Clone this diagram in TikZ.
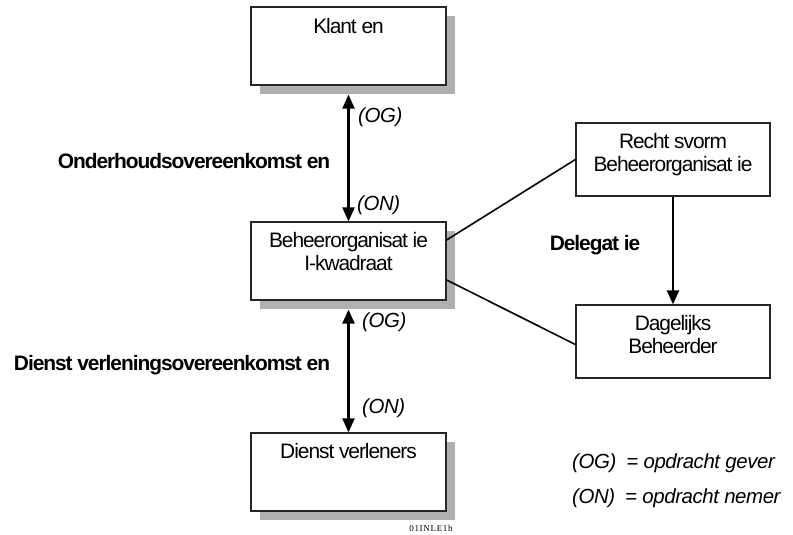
\documentclass[tikz,border=0pt]{standalone}
\usepackage{fontspec}
\setmainfont[LetterSpace=-5,ItalicFeatures={LetterSpace=-2}]{Liberation Sans}
\newfontfamily\tinyserif[LetterSpace=8]{Liberation Serif}
\usetikzlibrary{arrows.meta,calc,shadows}

\begin{document}
\begin{tikzpicture}[x=1bp,y=-1bp,
  box/.style={draw=black!85, line width=1.2bp, fill=white, minimum width=195bp, minimum height=78bp, inner sep=0pt},
  shadowbox/.style={box, general shadow={fill=black!31, shadow xshift=9bp, shadow yshift=-9bp}},
  smallbox/.style={box, minimum width=194bp, minimum height=73bp},
  boxtext/.style={font=\fontsize{21}{22.5}\selectfont, align=center, inner sep=0pt, anchor=north},
  lbl/.style={font=\fontsize{21}{22}\selectfont\bfseries, inner sep=0pt},
  role/.style={font=\fontsize{20.5}{22}\selectfont\itshape, inner sep=0pt, anchor=west},
  dbl/.style={line width=2.2bp, {Triangle[length=14bp,width=12bp]}-{Triangle[length=14bp,width=12bp]}},
  sgl/.style={line width=2.2bp, -{Triangle[length=14bp,width=12bp]}},
  conn/.style={line width=1.6bp}
]
\useasboundingbox (0,0) rectangle (793,535);

% boxes
\node[shadowbox] (kl) at (348.5,46) {};
\node[shadowbox] (bh) at (348.5,261) {};
\node[shadowbox] (dv) at (348.5,472) {};
\node[smallbox] (rv) at (673,159.5) {};
\node[smallbox] (db) at (673,341.5) {};

% box texts
\node[boxtext] (klt) at ($(kl.north)+(0,12)$) {Klant en};
\node[boxtext] (bht) at ($(bh.north)+(0,11)$) {Beheerorganisat ie\\I-kwadraat};
\node[boxtext] (dvt) at ($(dv.north)+(0,11)$) {Dienst verleners};
\node[boxtext] (rvt) at ($(rv.north)+(0,11)$) {Recht svorm\\Beheerorganisat ie};
\node[boxtext] (dbt) at ($(db.north)+(0,11)$) {Dagelijks\\Beheerder};

% connectors
\draw[dbl] ($(kl.south)+(0,9)$) -- (bh.north);
\draw[dbl] ($(bh.south)+(0,9)$) -- (dv.north);
\draw[sgl] (rv.south) -- (db.north);
\draw[conn] ($(bh.east)+(0,-21)$) -- (rv.west);
\draw[conn] ($(bh.east)+(0,19)$) -- ($(db.west)+(0,3)$);

% labels
\node[lbl] (ok) at (194,161) {Onderhoudsovereenkomst en};
\node[lbl] (dk) at (172,365) {Dienst verleningsovereenkomst en};
\node[lbl] (dl) at (595,245) {Delegat ie};
\node[role] (og1) at (358,117) {(OG)};
\node[role] (on1) at (357,205) {(ON)};
\node[role] (og2) at (362,322) {(OG)};
\node[role] (on2) at (362,408) {(ON)};

% legend
\node[role] (lg1) at (572,463) {(OG)\hspace{10bp}= opdracht gever};
\node[role] (lg2) at (572,498) {(ON)\hspace{10bp}= opdracht nemer};

\node[font=\tinyserif\fontsize{9}{10}\selectfont, inner sep=0pt] (code) at (431,528) {01INLE1h};
\end{tikzpicture}
\end{document}
